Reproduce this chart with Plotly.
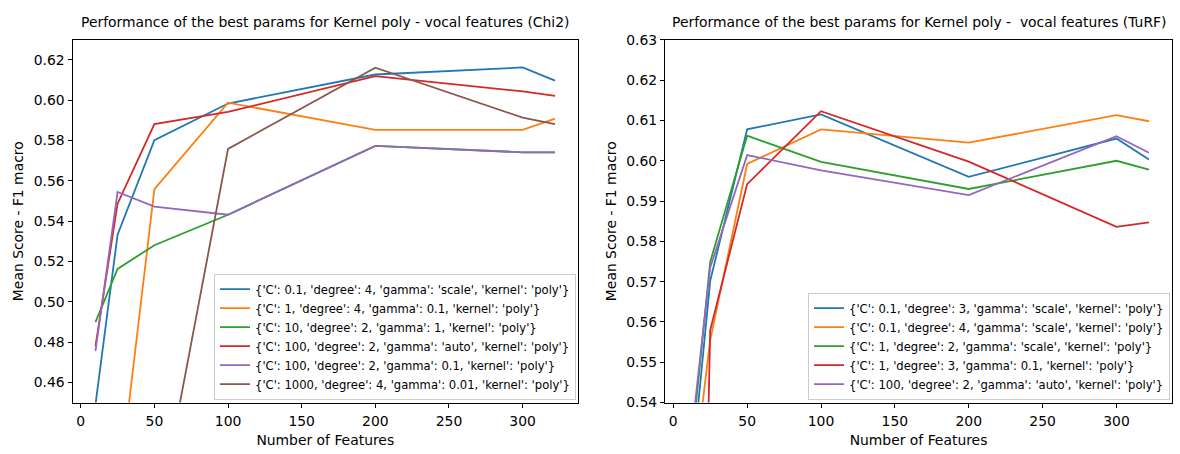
import plotly.graph_objects as go

n_features = [10, 25, 50, 100, 200, 300, 322]

# Left panel (Chi2)
chi2_labels = [
    "{'C': 0.1, 'degree': 4, 'gamma': 'scale', 'kernel': 'poly'}",
    "{'C': 1, 'degree': 4, 'gamma': 0.1, 'kernel': 'poly'}",
    "{'C': 10, 'degree': 2, 'gamma': 1, 'kernel': 'poly'}",
    "{'C': 100, 'degree': 2, 'gamma': 'auto', 'kernel': 'poly'}",
    "{'C': 100, 'degree': 2, 'gamma': 0.1, 'kernel': 'poly'}",
    "{'C': 1000, 'degree': 4, 'gamma': 0.01, 'kernel': 'poly'}",
]
chi2_s1 = [0.449, 0.5333, 0.5802, 0.5984, 0.6128, 0.6163, 0.6098]
chi2_s2 = [0.390, 0.402, 0.5559, 0.5988, 0.5853, 0.5853, 0.5909]
chi2_s3 = [0.4899, 0.5163, 0.5281, 0.5432, 0.5774, 0.5742, 0.5742]
chi2_s4 = [0.478, 0.5487, 0.5882, 0.5942, 0.6120, 0.6044, 0.6022]
chi2_s5 = [0.4756, 0.5545, 0.5472, 0.5432, 0.5774, 0.5742, 0.5742]
chi2_s6 = [0.360, 0.370, 0.383, 0.5759, 0.6162, 0.5914, 0.5882]

# Right panel (TuRF)
turf_labels = [
    "{'C': 0.1, 'degree': 3, 'gamma': 'scale', 'kernel': 'poly'}",
    "{'C': 0.1, 'degree': 4, 'gamma': 'scale', 'kernel': 'poly'}",
    "{'C': 1, 'degree': 2, 'gamma': 'scale', 'kernel': 'poly'}",
    "{'C': 1, 'degree': 3, 'gamma': 0.1, 'kernel': 'poly'}",
    "{'C': 100, 'degree': 2, 'gamma': 'auto', 'kernel': 'poly'}",
]
turf_s1 = [0.5136, 0.5702, 0.6078, 0.6115, 0.5960, 0.6055, 0.6003]
turf_s2 = [0.510, 0.5555, 0.5992, 0.6078, 0.6045, 0.6113, 0.6098]
turf_s3 = [0.520, 0.5749, 0.6062, 0.5997, 0.5930, 0.6000, 0.5978]
turf_s4 = [0.300, 0.5580, 0.5942, 0.6123, 0.5998, 0.5836, 0.5847]
turf_s5 = [0.5242, 0.5735, 0.6014, 0.5976, 0.5915, 0.6061, 0.6020]

colors = ["#1f77b4", "#ff7f0e", "#2ca02c", "#d62728", "#9467bd", "#8c564b"]
FONT = "DejaVu Sans"
FS = 13.9

fig = go.Figure()
for i, (lab, ys) in enumerate(zip(chi2_labels, [chi2_s1, chi2_s2, chi2_s3, chi2_s4, chi2_s5, chi2_s6])):
    fig.add_trace(go.Scatter(x=n_features, y=ys, mode="lines", name=lab,
                             line=dict(color=colors[i], width=1.8),
                             xaxis="x", yaxis="y", legend="legend"))
for i, (lab, ys) in enumerate(zip(turf_labels, [turf_s1, turf_s2, turf_s3, turf_s4, turf_s5])):
    fig.add_trace(go.Scatter(x=n_features, y=ys, mode="lines", name=lab,
                             line=dict(color=colors[i], width=1.8),
                             xaxis="x2", yaxis="y2", legend="legend2"))

W, H = 1180, 454
L1, R1 = 72.5, 578
L2, R2 = 665, 1172
T, B = 33, 409

axis_common = dict(showline=True, mirror=True, linecolor="black", linewidth=1,
                   ticks="outside", ticklen=4, tickcolor="black", showgrid=False,
                   zeroline=False, tickfont=dict(family=FONT, size=FS, color="black"),
                   title_font=dict(family=FONT, size=FS, color="black"))

leg_common = dict(xanchor="right", yanchor="bottom",
                  bgcolor="rgba(255,255,255,0.8)", bordercolor="#cccccc", borderwidth=1,
                  font=dict(family=FONT, size=11.6, color="black"), itemwidth=30,
                  tracegroupgap=0)

xr = [10 - 0.05 * 312, 322 + 0.05 * 312]
fig.update_layout(
    width=W, height=H,
    margin=dict(l=0, r=0, t=0, b=0),
    paper_bgcolor="white", plot_bgcolor="white",
    font=dict(family=FONT, color="black"),
    xaxis=dict(domain=[L1 / W, R1 / W], range=xr, tickvals=[0, 50, 100, 150, 200, 250, 300],
               ticklabelstandoff=2,
               title=dict(text="Number of Features", standoff=7), anchor="y", **axis_common),
    yaxis=dict(domain=[1 - B / H, 1 - T / H], range=[0.45, 0.63], dtick=0.02, tick0=0.46,
               tickformat=".2f", title=dict(text="Mean Score - F1 macro", standoff=6),
               anchor="x", **axis_common),
    xaxis2=dict(domain=[L2 / W, R2 / W], range=xr, tickvals=[0, 50, 100, 150, 200, 250, 300],
                ticklabelstandoff=2,
                title=dict(text="Number of Features", standoff=7), anchor="y2", **axis_common),
    yaxis2=dict(domain=[1 - B / H, 1 - T / H], range=[0.54, 0.63], dtick=0.01, tick0=0.54,
                tickformat=".2f", title=dict(text="Mean Score - F1 macro", standoff=6),
                anchor="x2", **axis_common),
    legend=dict(x=(R1 - 2) / W, y=1 - (B - 3) / H, **leg_common),
    legend2=dict(x=(R2 - 2) / W, y=1 - (B - 3) / H, **leg_common),
    showlegend=True,
)

fig.add_annotation(text="Performance of the best params for Kernel poly - vocal features (Chi2)",
                   x=(L1 + R1) / 2 / W, y=1 - 14 / H, xref="paper", yref="paper",
                   xanchor="center", yanchor="middle",
                   showarrow=False, font=dict(family=FONT, size=FS, color="black"))
fig.add_annotation(text="Performance of the best params for Kernel poly - \u00a0vocal features (TuRF)",
                   x=(L2 + R2) / 2 / W, y=1 - 14 / H, xref="paper", yref="paper",
                   xanchor="center", yanchor="middle",
                   showarrow=False, font=dict(family=FONT, size=FS, color="black"))

fig.write_html("out.html")
